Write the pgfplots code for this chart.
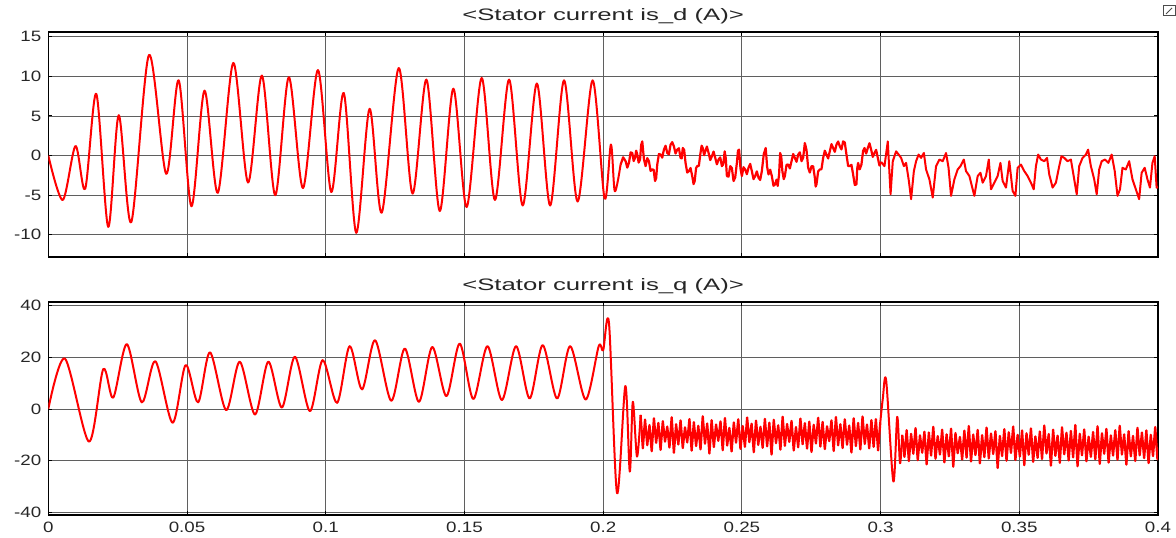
\documentclass[border=0pt]{standalone}
\usepackage{fontspec}
\setmainfont{Liberation Sans}
\newfontfamily\tickfont[FakeStretch=1.25]{Liberation Sans}
\newfontfamily\titlefont[FakeStretch=1.55]{Liberation Sans}
\usepackage{pgfplots}
\pgfplotsset{compat=1.18}
\definecolor{gridc}{RGB}{95,95,95}
\pgfplotsset{
  simscope/.style={
    scale only axis, width=554.85pt,
    xmin=0, xmax=0.4,
    xtick={0,0.05,0.1,0.15,0.2,0.25,0.3,0.35,0.4},
    tick align=inside, tick pos=both, major tick length=2pt,
    grid=major, major grid style={draw=gridc, line width=0.45pt},
    axis line style={line width=0.7pt, black},
    every tick/.style={black, line width=0.5pt},
    ticklabel style={font=\tickfont\fontsize{7.5}{8}\selectfont, text=black!85},
    title style={font=\titlefont\fontsize{8.3}{9}\selectfont, text=black!85, yshift=-5.5pt},
  },
  sig/.style={red, line width=1pt, no markers, line join=round},
}
\begin{document}
\begin{tikzpicture}
\useasboundingbox (0,0) rectangle (588pt,268.5pt);
% ---------------- top: is_d ----------------
\begin{axis}[simscope, at={(24.15pt,140pt)}, anchor=south west, height=112.5pt,
  ymin=-12.8, ymax=15.6,
  ytick={-10,-5,0,5,10,15}, yticklabels={-10,-5,0,5,10,15},
  xticklabels={},
  title={<Stator current is\_d (A)>}]
\addplot[sig, smooth] coordinates {
(0,0) (0.0052,-5.6) (0.0098,1.2) (0.0133,-4.2) (0.0173,7.8) (0.0216,-9.0)
(0.0254,5.1) (0.0299,-8.4) (0.0363,12.7) (0.0425,-2.3) (0.047,9.5) (0.0516,-6.4)
(0.0563,8.2) (0.0611,-4.7) (0.0667,11.7) (0.072,-3.4) (0.077,10.1) (0.0818,-5.0)
(0.0867,9.9) (0.0918,-4.1) (0.0972,10.8) (0.102,-4.6) (0.1065,7.9) (0.111,-9.75)
(0.1158,5.9) (0.1202,-7.2) (0.1263,11.05) (0.1313,-4.8) (0.1363,9.6) (0.1411,-7.0)
(0.146,8.45) (0.1508,-6.5) (0.1562,9.8) (0.161,-5.6) (0.1661,9.6) (0.171,-6.3)
(0.1761,9.1) (0.1809,-6.3) (0.1859,9.5) (0.1908,-5.8) (0.1962,9.5) (0.2005,-5.4)
(0.2028,1.4) (0.2042,-4.5) (0.2063,-1.1)
};
\addplot[sig, line width=1.1pt] coordinates {
(0.2063,-1.13) (0.2072,-0.22) (0.2081,-0.71) (0.2087,-1.52) (0.2093,-0.92) (0.2099,0.40)
(0.2105,0.33) (0.2110,-0.68) (0.2115,-0.29) (0.2119,0.62) (0.2123,0.13) (0.2128,-0.89)
(0.2133,-0.5) (0.2137,1.35) (0.2141,1.79) (0.2147,-0.47) (0.2153,-1.33) (0.2159,-0.32)
(0.2165,-0.71) (0.2171,-1.93) (0.2177,-1.75) (0.2182,-1.78) (0.2187,-3.21) (0.2191,-2.87)
(0.2195,-1.13) (0.2201,0.20) (0.2207,0.13) (0.2213,-0.26) (0.2219,0.75) (0.2225,1.24)
(0.2231,0.33) (0.2237,0.16) (0.2243,1.38) (0.2249,1.70) (0.2255,1.17) (0.2261,0.26)
(0.2267,0.75) (0.2273,0.93) (0.2279,-0.29) (0.2283,-0.36) (0.2287,0.96) (0.2292,0.72)
(0.2297,-0.92) (0.2303,-2.14) (0.2309,-1.96) (0.2315,-1.57) (0.2321,-2.58) (0.2326,-3.60)
(0.233,-3.21) (0.2335,-1.57) (0.2339,-1.33) (0.2345,-1.30) (0.235,0.13) (0.2355,1.25)
(0.2359,0.96) (0.2364,0.05) (0.2368,0.54) (0.2374,1.14) (0.238,0.33) (0.2386,-0.57)
(0.2392,-0.08) (0.2398,0.51) (0.2404,-0.29) (0.2410,-1.10) (0.2416,-0.5) (0.2422,-0.22)
(0.2428,-1.33) (0.2433,-1.10) (0.2438,0.54) (0.2442,-0.32) (0.2446,-2.58) (0.2452,-2.66)
(0.2458,-1.33) (0.2464,-1.57) (0.247,-3.21) (0.2476,-2.77) (0.2482,-0.92) (0.2486,0.61)
(0.249,0.75) (0.2495,-1.62) (0.25,-2.58) (0.2506,-1.47) (0.2512,-1.75) (0.2518,-2.35)
(0.2524,-1.54) (0.2530,-1.05) (0.2536,-1.96) (0.2542,-2.97) (0.2548,-2.58) (0.2554,-1.99)
(0.256,-2.79) (0.2566,-3.08) (0.2572,-1.96) (0.2579,0.20) (0.2586,0.96) (0.2591,-1.41)
(0.2596,-2.38) (0.2602,-1.78) (0.2608,-2.58) (0.2614,-3.81) (0.262,-3.63) (0.2625,-3.03)
(0.2629,-3.83) (0.2634,-2.45) (0.2638,0.33) (0.2642,-0.12) (0.2646,-1.96) (0.2651,-2.97)
(0.2655,-2.58) (0.2661,-1.16) (0.2667,-1.13) (0.2673,-1.62) (0.2679,-0.71) (0.2685,0.20)
(0.2691,-0.29) (0.2697,-0.78) (0.2703,0.13) (0.2709,0.41) (0.2715,-0.71) (0.2721,-0.26)
(0.2727,1.58) (0.2733,0.72) (0.2739,-1.54) (0.2745,-2.14) (0.2751,-1.33) (0.2757,-1.36)
(0.2763,-2.79) (0.2766,-3.91) (0.2769,-3.63) (0.2775,-1.99) (0.2781,-1.75) (0.2787,-1.72)
(0.2793,-0.29) (0.2799,0.62) (0.2805,0.13) (0.2811,-0.36) (0.2817,0.54) (0.2823,1.45)
(0.2829,0.96) (0.2835,0.47) (0.2841,1.38) (0.2847,1.78) (0.2853,1.17) (0.2859,0.78)
(0.2865,1.79) (0.2871,1.66) (0.2877,0.13) (0.2883,-1.30) (0.2889,-1.33) (0.2895,-1.16)
(0.2901,-2.38) (0.2907,-3.71) (0.2913,-3.63) (0.2916,-1.58) (0.2919,-0.92) (0.2925,-1.73)
(0.2931,-1.13) (0.2937,0.61) (0.2942,0.96) (0.2948,0.26) (0.2954,0.96) (0.2960,1.56)
(0.2966,0.75) (0.2972,-0.16) (0.2978,0.33) (0.2984,0.72) (0.299,-0.29) (0.2996,-1.25)
(0.3002,-0.8)
};
\addplot[sig] coordinates {
(0.3002,-0.8) (0.3014,-1.33) (0.3026,1.79) (0.3036,-4.88) (0.3044,-0.71) (0.3056,0.54)
(0.3065,0.13) (0.3074,-0.29) (0.3084,-1.33) (0.3092,-0.92) (0.3102,-3.21) (0.311,-5.5)
(0.312,-1.96) (0.3128,-0.71) (0.3137,0.13) (0.3146,-0.29) (0.3156,0.33) (0.3164,-1.75)
(0.3176,-3.0) (0.3188,-5.29) (0.32,-1.33) (0.3212,-0.5) (0.3224,-0.71) (0.3236,0.33)
(0.3245,-1.54) (0.3254,-5.08) (0.3266,-3.0) (0.3278,-1.75) (0.3288,-1.33) (0.33,-0.5)
(0.3308,-1.96) (0.332,-2.58) (0.3332,-4.25) (0.3338,-5.08) (0.335,-2.58) (0.336,-2.17)
(0.3368,-3.42) (0.338,-2.58) (0.339,-0.5) (0.3398,-4.25) (0.341,-3.42) (0.3422,-2.58)
(0.3432,-0.92) (0.344,-3.21) (0.3452,-4.04) (0.3464,-0.71) (0.3476,-4.46) (0.3486,-5.08)
(0.3494,-1.54) (0.3506,-1.13) (0.3518,-1.96) (0.353,-2.58) (0.3542,-3.42) (0.3552,-4.25)
(0.356,-1.33) (0.3568,0.13) (0.3578,-0.5) (0.359,-0.71) (0.36,-0.29) (0.3608,-2.38)
(0.362,-4.04) (0.3632,-3.42) (0.3644,-1.33) (0.3652,-0.08) (0.3662,-0.29) (0.3674,-0.71)
(0.3686,-0.5) (0.3698,-3.0) (0.3707,-4.88) (0.3716,-1.33) (0.3728,-0.29) (0.374,0.13)
(0.3748,0.75) (0.3758,-1.33) (0.377,-3.0) (0.3779,-4.88) (0.3788,-1.75) (0.3797,-0.71)
(0.3809,-0.5) (0.3821,-0.92) (0.3833,0.13) (0.3844,-1.96) (0.3854,-5.08) (0.3863,-4.25)
(0.3872,-1.54) (0.3884,-1.75) (0.3896,-0.71) (0.3908,-3.0) (0.392,-4.25) (0.3932,-5.5)
(0.3941,-2.17) (0.3952,-1.54) (0.3962,-3.0) (0.3971,-4.04) (0.398,-0.92) (0.3988,-0.08)
(0.3995,-4.04) (0.4,-4.0)
};
\end{axis}
% ---------------- bottom: is_q ----------------
\begin{axis}[simscope, at={(24.15pt,11pt)}, anchor=south west, height=106.5pt,
  ymin=-41, ymax=41.4,
  ytick={-40,-20,0,20,40}, yticklabels={-40,-20,0,20,40},
  xticklabels={0,0.05,0.1,0.15,0.2,0.25,0.3,0.35,0.4},
  title={<Stator current is\_q (A)>}]
\addplot[sig, smooth] coordinates {
(0,0) (0.006,19.5) (0.01465,-12.6) (0.0198,15.4) (0.0234,4.4) (0.0283,25.1)
(0.0337,2.6) (0.0386,18.5) (0.0448,-5.3) (0.0495,17.0) (0.054,2.6) (0.0583,21.9)
(0.0641,-0.4) (0.069,18.3) (0.0745,-2.1) (0.0793,18.3) (0.0842,0.6) (0.0889,20.2)
(0.0943,-0.8) (0.0989,18.9) (0.1041,2.4) (0.1086,24.3) (0.1131,7.6) (0.1178,26.6)
(0.1236,3.2) (0.1285,23.4) (0.1336,2.8) (0.1384,24.0) (0.1435,5.0) (0.1483,25.3)
(0.1532,3.9) (0.1583,24.3) (0.1635,3.5) (0.1686,24.3) (0.1735,4.1) (0.1782,24.7)
(0.1834,4.1) (0.1881,24.3) (0.1937,3.7) (0.1984,24.3) (0.2,22.7) (0.2021,33.3)
(0.205,-32.5) (0.208,8.9) (0.2096,-24.2) (0.2107,2.8) (0.2122,-18.4) (0.2135,-2.3)
};
\addplot[sig, line width=1.15pt] coordinates {
(0.2135,-2.3)
(0.2143,-15.2) (0.2151,-4.1) (0.2159,-14.0) (0.2167,-6.2) (0.2175,-16.3) (0.2183,-3.6)
(0.2191,-13.1) (0.2199,-5.4) (0.2207,-15.8) (0.2215,-4.7) (0.2223,-12.6) (0.2231,-6.8)
(0.2239,-14.9) (0.2247,-3.2) (0.2255,-16.9) (0.2263,-5.9) (0.2271,-13.7) (0.2279,-4.4)
(0.2287,-15.1) (0.2295,-7.1) (0.2303,-12.9) (0.2311,-3.9) (0.2319,-16.1) (0.2327,-5.1)
(0.2335,-14.3) (0.2343,-6.5) (0.2351,-15.6) (0.2359,-2.8) (0.2367,-13.4) (0.2375,-5.6)
(0.2383,-17.2) (0.2391,-4.3) (0.2399,-14.7) (0.2407,-6.0) (0.2415,-12.3) (0.2423,-4.8)
(0.2431,-15.9) (0.2439,-3.5) (0.2447,-14.1) (0.2455,-7.3) (0.2463,-16.4) (0.2471,-5.2)
(0.2479,-13.0) (0.2487,-4.0) (0.2495,-15.4) (0.2503,-6.6) (0.2511,-14.6) (0.2519,-3.3)
(0.2527,-12.8) (0.2535,-5.7) (0.2543,-16.7) (0.2551,-4.5) (0.2559,-13.9) (0.2567,-6.9)
(0.2575,-15.0) (0.2583,-3.8) (0.2591,-14.4) (0.2599,-5.3) (0.2607,-17.6) (0.2615,-4.2)
(0.2623,-13.2) (0.2631,-6.3) (0.2639,-15.7) (0.2647,-3.0) (0.2655,-14.2) (0.2663,-5.8)
(0.2671,-12.7) (0.2679,-4.6) (0.2687,-16.0) (0.2695,-7.0) (0.2703,-14.8) (0.2711,-3.7)
(0.2719,-13.6) (0.2727,-5.5) (0.2735,-15.3) (0.2743,-4.9) (0.2751,-16.6) (0.2759,-6.1)
(0.2767,-13.3) (0.2775,-3.4) (0.2783,-14.5) (0.2791,-5.0) (0.2799,-15.5) (0.2807,-6.7)
(0.2815,-12.4) (0.2823,-4.4) (0.2831,-16.2) (0.2839,-3.1) (0.2847,-14.0) (0.2855,-5.9)
(0.2863,-15.1) (0.2871,-4.0) (0.2879,-13.8) (0.2887,-6.4) (0.2895,-16.8) (0.2903,-3.6)
(0.2911,-14.3) (0.2919,-5.4) (0.2927,-15.6) (0.2935,-2.9) (0.2943,-13.5) (0.2951,-6.0)
(0.2959,-15.2) (0.2967,-4.3) (0.2975,-14.6) (0.2983,-3.9) (0.2991,-16.0) (0.2999,-5.1)
};
\addplot[sig, smooth] coordinates {
(0.2999,-5.1) (0.3008,4.0) (0.302,11.2) (0.3046,-28.0) (0.306,-3.0) (0.307,-21.0) (0.3078,-10.0)
};
\addplot[sig, line width=1.15pt] coordinates {
(0.3078,-10.0)
(0.3086,-18.5) (0.3094,-8.2) (0.3102,-20.1) (0.3110,-9.6) (0.3118,-17.3) (0.3126,-7.4)
(0.3134,-19.8) (0.3142,-10.2) (0.3150,-16.9) (0.3158,-8.8) (0.3166,-21.4) (0.3174,-9.1)
(0.3182,-18.0) (0.3190,-6.9) (0.3198,-19.2) (0.3206,-10.5) (0.3214,-17.6) (0.3222,-8.0)
(0.3230,-20.6) (0.3238,-9.8) (0.3246,-18.3) (0.3254,-7.6) (0.3262,-22.3) (0.3270,-9.3)
(0.3278,-17.1) (0.3286,-10.8) (0.3294,-19.5) (0.3302,-8.4) (0.3310,-18.8) (0.3318,-6.6)
(0.3326,-20.3) (0.3334,-9.9) (0.3342,-17.8) (0.3350,-8.1) (0.3358,-21.0) (0.3366,-10.1)
(0.3374,-18.6) (0.3382,-7.2) (0.3390,-19.1) (0.3398,-9.5) (0.3406,-17.4) (0.3414,-8.6)
(0.3422,-22.8) (0.3430,-10.4) (0.3438,-18.2) (0.3446,-7.8) (0.3454,-20.0) (0.3462,-9.0)
(0.3470,-17.0) (0.3478,-6.8) (0.3486,-19.7) (0.3494,-10.0) (0.3502,-18.4) (0.3510,-8.3)
(0.3518,-21.7) (0.3526,-9.4) (0.3534,-17.7) (0.3542,-7.5) (0.3550,-20.4) (0.3558,-10.6)
(0.3566,-18.9) (0.3574,-8.7) (0.3582,-19.3) (0.3590,-6.4) (0.3598,-17.2) (0.3606,-9.7)
(0.3614,-21.9) (0.3622,-8.0) (0.3630,-18.1) (0.3638,-10.3) (0.3646,-20.8) (0.3654,-7.1)
(0.3662,-17.5) (0.3670,-9.2) (0.3678,-19.9) (0.3686,-8.5) (0.3694,-18.7) (0.3702,-6.2)
(0.3710,-22.1) (0.3718,-9.6) (0.3726,-17.9) (0.3734,-7.9) (0.3742,-20.2) (0.3750,-10.7)
(0.3758,-18.5) (0.3766,-8.9) (0.3774,-19.4) (0.3782,-6.7) (0.3790,-21.2) (0.3798,-9.4)
(0.3806,-17.3) (0.3814,-7.7) (0.3822,-20.7) (0.3830,-10.2) (0.3838,-18.0) (0.3846,-8.2)
(0.3854,-19.6) (0.3862,-6.5) (0.3870,-17.6) (0.3878,-9.8) (0.3886,-21.5) (0.3894,-8.6)
(0.3902,-18.3) (0.3910,-10.4) (0.3918,-20.1) (0.3926,-7.3) (0.3934,-17.9) (0.3942,-9.1)
(0.3950,-19.0) (0.3958,-8.3) (0.3966,-20.9) (0.3974,-10.0) (0.3982,-18.2) (0.3990,-7.0)
(0.3998,-19.4) (0.4,-15.0)
};
\end{axis}
% small scope-window icon at top right
\draw[black!70, line width=0.5pt] (581.5pt,260.5pt) rectangle (587.5pt,265.5pt);
\draw[black!70, line width=0.4pt] (583pt,261.5pt) -- (586pt,264.5pt);
\end{tikzpicture}
\end{document}
